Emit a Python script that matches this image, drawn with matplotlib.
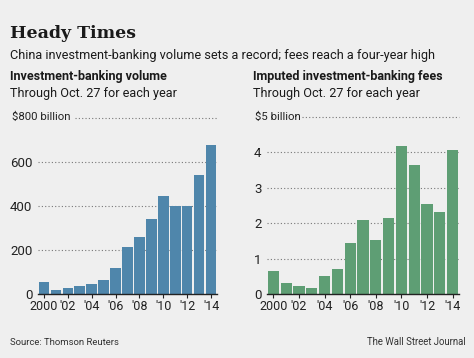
import matplotlib.pyplot as plt

years = list(range(2000, 2015))
year_labels = ['2000', "'02", "'04", "'06", "'08", "'10", "'12", "'14"]

# billions of dollars
volume = [53, 17, 29, 35, 45, 65, 118, 215, 258, 342, 444, 399, 398, 542, 677]
volume_ticks = [0, 200, 400, 600, 800]

# billions of dollars
fees = [0.64, 0.30, 0.23, 0.17, 0.50, 0.72, 1.43, 2.10, 1.52, 2.14, 4.19, 3.65, 2.54, 2.31, 4.06]
fee_ticks = [0, 1, 2, 3, 4, 5]

BG = '#efefef'
FONT = 'Roboto'
W, H = 474, 358


def px_axes(fig, x0, x1, y_base, y_top):
    return fig.add_axes([x0 / W, (H - y_base) / H, (x1 - x0) / W, (y_base - y_top) / H])


def bar_panel(ax, values, ticks, color, top_gap):
    pos = list(range(len(values)))
    ax.set_facecolor(BG)
    for t in ticks[1:]:
        xmin = top_gap if t == ticks[-1] else 0
        ax.axhline(t, xmin=xmin, xmax=1, color='#777777', lw=0.8,
                   linestyle=(0, (1, 2)), zorder=1, clip_on=False)
    ax.bar(pos, values, width=0.89, color=color, zorder=2)
    ax.set_xlim(-0.5, len(values) - 0.5)
    ax.set_ylim(0, ticks[-1])
    for s in ['top', 'right', 'left']:
        ax.spines[s].set_visible(False)
    ax.spines['bottom'].set_color('#222222')
    ax.spines['bottom'].set_linewidth(1.0)
    ax.spines['bottom'].set_zorder(3)
    ax.set_xticks(pos[::2])
    ax.set_xticklabels(year_labels, fontsize=9, family=FONT, color='#222222')
    ax.tick_params(axis='x', length=3, width=0.8, color='#222222', pad=1.5)
    ax.set_yticks(ticks[:-1])
    ax.set_yticklabels([str(t) for t in ticks[:-1]], fontsize=9.5, family=FONT,
                       color='#222222')
    ax.tick_params(axis='y', length=0, pad=4)


fig = plt.figure(figsize=(W / 100, H / 100), dpi=100, facecolor=BG)

ax1 = px_axes(fig, 38, 217, 294, 118)
bar_panel(ax1, volume, volume_ticks, '#4f86ab', 0.207)
fig.text(12 / W, 1 - 117 / H, '$800 billion', fontsize=8.2, family=FONT,
         color='#222222', va='center', ha='left')

ax2 = px_axes(fig, 267, 459, 294, 117)
bar_panel(ax2, fees, fee_ticks, '#5e9e74', 0.18)
fig.text(255 / W, 1 - 117 / H, '$5 billion', fontsize=8.2, family=FONT,
         color='#222222', va='center', ha='left')


def ftext(x, y, s, **kw):
    fig.text(x / W, 1 - y / H, s, va='baseline', color='#1a1a1a', **kw)


ftext(10, 38, 'Heady Times', fontsize=12.5, family='DejaVu Serif', weight='bold')
ftext(10, 59, 'China investment-banking volume sets a record; fees reach a four-year high',
      fontsize=9.2, family=FONT)
ftext(10, 80, 'Investment-banking volume', fontsize=9, family=FONT, weight='bold')
ftext(10, 97, 'Through Oct. 27 for each year', fontsize=9.1, family=FONT)
ftext(253, 80, 'Imputed investment-banking fees', fontsize=9, family=FONT, weight='bold')
ftext(253, 97, 'Through Oct. 27 for each year', fontsize=9.1, family=FONT)
fig.text(10 / W, 1 - 345 / H, 'Source: Thomson Reuters', va='baseline',
         fontsize=6.8, family=FONT, color='#333333')
fig.text(466 / W, 1 - 345 / H, 'The Wall Street Journal', va='baseline', ha='right',
         fontsize=6.9, family=FONT, color='#333333')

fig.savefig('out.png', dpi=100, facecolor=BG)
